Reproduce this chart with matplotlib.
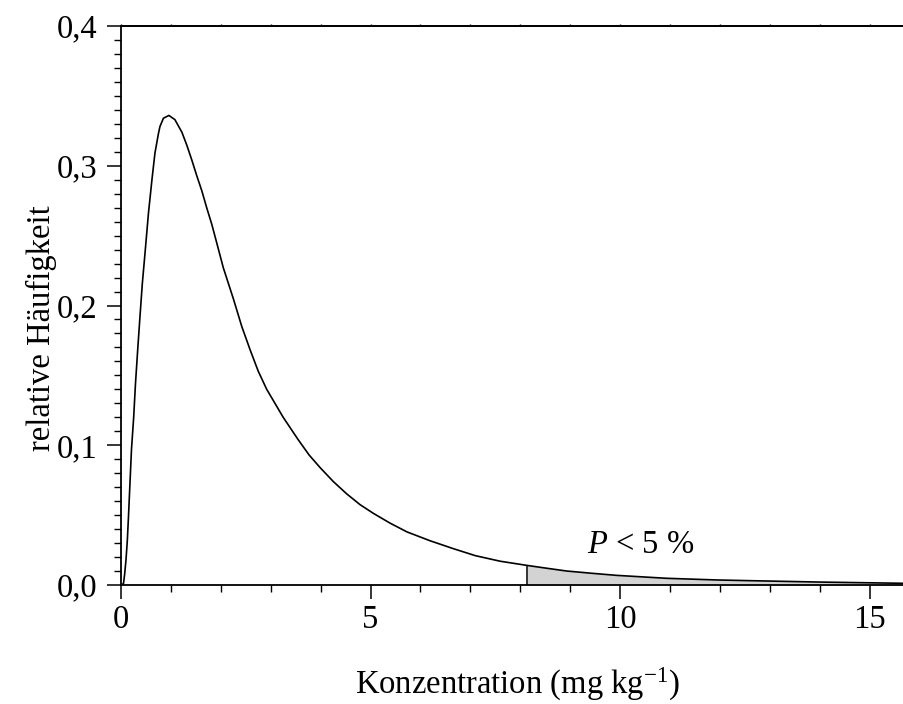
import matplotlib
matplotlib.use("Agg")
import matplotlib.pyplot as plt
from matplotlib.ticker import MultipleLocator, FixedLocator
import numpy as np

plt.rcParams["font.family"] = ["Liberation Serif", "DejaVu Serif"]
plt.rcParams["mathtext.fontset"] = "custom"
plt.rcParams["mathtext.rm"] = "Liberation Serif"
plt.rcParams["mathtext.it"] = "Liberation Serif:italic"

# values
konz = [0.00, 0.05, 0.074, 0.10, 0.127, 0.15, 0.18, 0.21, 0.254, 0.29, 0.334,
        0.38, 0.428, 0.48, 0.55, 0.62, 0.68, 0.75, 0.78, 0.85, 0.96, 1.08,
        1.22, 1.316, 1.42, 1.517, 1.62, 1.717, 1.82, 1.917, 2.05, 2.25,
        2.42, 2.59, 2.75, 2.92, 3.25, 3.55, 3.77, 3.99, 4.255, 4.52, 4.79, 5.06,
        5.39, 5.73, 6.19, 6.66, 7.10, 7.60, 8.14, 8.53, 8.93, 9.43, 9.93, 10.93,
        11.94, 12.60, 14.00, 15.70]
haeuf = [0.000, 0.001, 0.008, 0.018, 0.032, 0.049, 0.073, 0.097, 0.120, 0.144,
         0.168, 0.192, 0.216, 0.237, 0.266, 0.290, 0.309, 0.323, 0.328, 0.334,
         0.336, 0.333, 0.324, 0.315, 0.304, 0.293, 0.282, 0.270, 0.258,
         0.245, 0.227, 0.205, 0.185, 0.168, 0.153, 0.140, 0.120, 0.104,
         0.093, 0.084, 0.074, 0.0653, 0.0575, 0.0512, 0.0443, 0.038, 0.0317, 0.026,
         0.021, 0.017, 0.014, 0.012, 0.010, 0.0084, 0.0069, 0.0048, 0.0036,
         0.0031, 0.0021, 0.0012]
grenze = 8.14  # 95 % Quantil

xticks = [0, 5, 10, 15]
xlabels = ["0", "5", "10", "15"]
yticks = [0.0, 0.1, 0.2, 0.3, 0.4]
ylabels = ["0,0", "0,1", "0,2", "0,3", "0,4"]

x = np.array(konz)
y = np.array(haeuf)

fig = plt.figure(figsize=(9.04, 7.04), dpi=100)
ax = fig.add_axes([121 / 904, 119 / 704, 783 / 904, 559 / 704])

ax.plot(x, y, color="black", lw=1.2, zorder=3, solid_joinstyle="round")
maske = x >= grenze
ax.fill_between(x[maske], 0, y[maske], color="#d3d3d3", lw=0, zorder=2)
ax.vlines(grenze, 0, y[maske][0], color="black", lw=1.1, zorder=3)

ax.set_xlim(0, 15.69)
ax.set_ylim(0, 0.4)

ax.xaxis.set_major_locator(FixedLocator(xticks))
ax.set_xticklabels(xlabels)
ax.xaxis.set_minor_locator(MultipleLocator(1))
ax.yaxis.set_major_locator(FixedLocator(yticks))
ax.set_yticklabels(ylabels)
ax.yaxis.set_minor_locator(MultipleLocator(0.01))

ax.tick_params(which="major", length=10, width=1.1, direction="out", labelsize=23.5)
ax.tick_params(which="minor", length=5, width=1.0, direction="out")
ax.tick_params(axis="y", pad=7)
ax.tick_params(axis="x", pad=4)

sec = ax.secondary_xaxis("top")
sec.xaxis.set_major_locator(MultipleLocator(1))
sec.tick_params(length=1.5, width=1.0, direction="out", labeltop=False)
sec.spines["top"].set_linewidth(1.3)

ax.spines["right"].set_visible(False)
for s in ["left", "bottom", "top"]:
    ax.spines[s].set_linewidth(1.3)

ax.text(10.42, 0.0286, r"$P$ < 5 %", fontsize=23.5, ha="center", va="center")

ax.set_xlabel(r"Konzentration (mg kg$^{\mathregular{-1}}$)", fontsize=23.5)
ax.xaxis.set_label_coords(0.507, -0.145)
ax.set_ylabel("relative Häufigkeit", fontsize=23.5)
ax.yaxis.set_label_coords(-0.082, 0.46)

fig.savefig("out.png", dpi=100)
